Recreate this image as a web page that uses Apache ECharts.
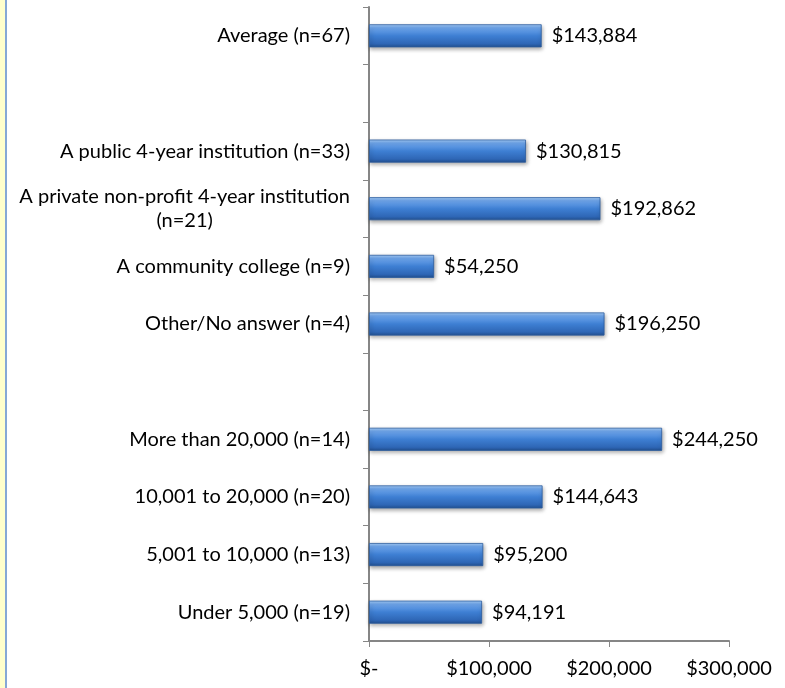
<!DOCTYPE html>
<html>
<head>
<meta charset="utf-8">
<script src="https://cdn.jsdelivr.net/npm/echarts@6/dist/echarts.min.js"></script>
<style>
html,body{margin:0;padding:0;background:#fff;}
#wrap{position:absolute;left:0;top:0;width:785px;height:688px;}
#strip{position:absolute;left:0;top:0;width:5px;height:688px;background:#FFFFCC;border-right:2px solid #86A8D6;}
#chart{position:absolute;left:0;top:0;width:785px;height:688px;}
</style>
</head>
<body>
<div id="wrap"><div id="strip"></div><div id="chart"></div></div>
<script>
var categories = [
  'Average (n=67)',
  '',
  'A public 4-year institution (n=33)',
  'A private non-profit 4-year institution\n(n=21)',
  'A community college (n=9)',
  'Other/No answer (n=4)',
  ' ',
  'More than 20,000 (n=14)',
  '10,001 to 20,000 (n=20)',
  '5,001 to 10,000 (n=13)',
  'Under 5,000 (n=19)'
];
var values = [143884, null, 130815, 192862, 54250, 196250, null, 244250, 144643, 95200, 94191];
var tickValues = [0, 100000, 200000, 300000];

function money(v){
  if (v === 0) return '$-';
  return '$' + v.toString().replace(/\B(?=(\d{3})+(?!\d))/g, ',');
}

var FONT = 'Lato';
var FS = 20;
var chart = echarts.init(document.getElementById('chart'), null, {renderer:'canvas'});
chart.setOption({
  animation:false,
  grid:{left:369, right:56, top:7, bottom:47, containLabel:false},
  xAxis:{
    type:'value', min:0, max:300000, interval:100000,
    axisLine:{show:true, lineStyle:{color:'#868686', width:2}},
    axisTick:{show:true, length:6, lineStyle:{color:'#868686', width:1}},
    splitLine:{show:false},
    axisLabel:{margin:18, color:'#000', fontFamily:FONT, fontSize:FS, formatter:function(v){return money(v);}}
  },
  yAxis:{
    type:'category', inverse:true, data:categories,
    axisLine:{show:true, lineStyle:{color:'#868686', width:2}},
    axisTick:{show:true, length:6, alignWithLabel:false, lineStyle:{color:'#868686', width:1}},
    axisLabel:{
      margin:19, color:'#000', fontFamily:FONT, fontSize:FS, lineHeight:24,
      formatter:function(v){
        if (v.indexOf('\n') >= 0) {
          return v.split('\n').map(function(s){return '{c|' + s + '}';}).join('\n');
        }
        return v;
      },
      rich:{c:{align:'center', fontFamily:FONT, fontSize:FS, lineHeight:24, color:'#000'}}
    }
  },
  series:[{
    type:'bar', data:values, barCategoryGap:'60%',
    itemStyle:{
      color:new echarts.graphic.LinearGradient(0,0,0,1,[
        {offset:0, color:'#A9D0FA'},
        {offset:0.15, color:'#6FA6EC'},
        {offset:0.5, color:'#3E7FD3'},
        {offset:0.85, color:'#2E66B5'},
        {offset:1, color:'#22508F'}
      ]),
      borderColor:'#2B5C9E', borderWidth:0.8,
      shadowColor:'rgba(0,0,0,0.35)', shadowBlur:4, shadowOffsetX:1, shadowOffsetY:2
    },
    label:{
      show:true, position:'right', distance:10, color:'#000',
      fontFamily:FONT, fontSize:FS,
      formatter:function(p){return money(p.value);}
    }
  }]
});
</script>
</body>
</html>
